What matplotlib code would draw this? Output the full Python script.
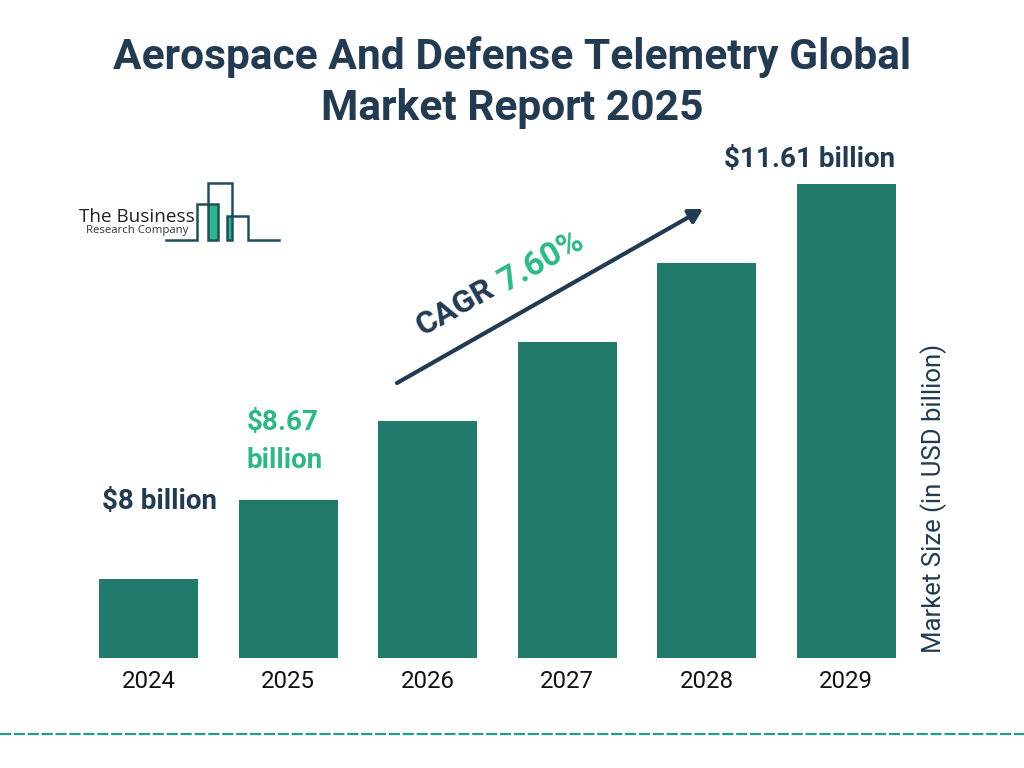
import matplotlib
matplotlib.use("Agg")
import matplotlib.pyplot as plt
from matplotlib.patches import Rectangle

plt.rcParams["font.family"] = ["Roboto", "DejaVu Sans"]

years = ["2024", "2025", "2026", "2027", "2028", "2029"]
# bars in the picture are evenly stepped, they do not follow the labels
bar_heights = [79, 158, 237, 316, 395, 474]
title = "Aerospace And Defense Telemetry Global\nMarket Report 2025"
y_label = "Market Size (in USD billion)"
label_2024 = "$8 billion"
label_2025 = "$8.67\nbillion"
label_2029 = "$11.61 billion"
cagr_word = "CAGR"
cagr_value = "7.60%"

NAVY = "#233a53"
BAR = "#217a6b"
GREEN = "#2fb78a"
TEAL = "#1f9e8f"
LOGO = "#1f4e5f"

W, H = 1024, 768
fig = plt.figure(figsize=(W / 100, H / 100), dpi=100, facecolor="white")

# bar chart axes, baseline at y=658px
ax = fig.add_axes([79 / W, (H - 658) / H, 837 / W, 508 / H])
ax.bar(range(len(years)), bar_heights, width=0.71, color=BAR)
ax.set_xlim(-0.5, 5.5)
ax.set_ylim(0, 508)
ax.set_xticks(range(len(years)))
ax.set_xticklabels(years, fontsize=17.3, color="#111111")
ax.tick_params(axis="x", length=0, pad=9)
ax.set_yticks([])
for s in ax.spines.values():
    s.set_visible(False)
ax.patch.set_alpha(0)

# overlay in pixel coordinates for the annotations
ov = fig.add_axes([0, 0, 1, 1])
ov.set_xlim(0, W)
ov.set_ylim(H, 0)
ov.axis("off")
ov.patch.set_alpha(0)

ov.text(512, 83, title, ha="center", va="center", fontsize=30.65, fontweight="bold",
        color=NAVY, linespacing=1.31)

ov.text(160, 502, label_2024, ha="center", va="center", fontsize=20, fontweight="bold", color=NAVY)
ov.text(247, 441.5, label_2025, ha="left", va="center", fontsize=20, fontweight="bold",
        color=GREEN, linespacing=1.56)
ov.text(810, 160, label_2029, ha="center", va="center", fontsize=20, fontweight="bold", color=NAVY)

ov.text(934, 498.5, y_label, ha="center", va="center", rotation=90, fontsize=18.5, color=NAVY)

ov.annotate("", xy=(703, 209), xytext=(397, 383),
            arrowprops=dict(arrowstyle="-|>,head_length=0.8,head_width=0.45", color=NAVY, lw=3,
                            shrinkA=0, shrinkB=0))
ov.text(455, 307, cagr_word, ha="center", va="center", rotation=29.5, rotation_mode="anchor",
        fontsize=23, fontweight="bold", color=NAVY)
ov.text(541, 262, cagr_value, ha="center", va="center", rotation=29.5, rotation_mode="anchor",
        fontsize=24, fontweight="bold", color=GREEN)

# dashed footer line
ov.plot([0, W], [734, 734], color=TEAL, lw=1.6, dashes=(5, 1.25))

# logo
ov.add_patch(Rectangle((208, 204), 10, 35.5, color=GREEN, lw=0))
ov.add_patch(Rectangle((226.7, 216), 5.3, 23.5, color=GREEN, lw=0))
logo_x = [166, 197, 197, 218, 218, 208, 208, 232, 232, 227, 227, 248, 248, 279]
logo_y = [239.5, 239.5, 204, 204, 239.5, 239.5, 183, 183, 239.5, 239.5, 216, 216, 239.5, 239.5]
ov.plot(logo_x, logo_y, color=LOGO, lw=1.8, solid_joinstyle="miter")
ov.text(79, 217, "The Business", ha="left", va="center", fontsize=13.6, color="#222222",
        family=["Open Sans", "DejaVu Sans"])
ov.text(85.5, 230, "Research Company", ha="left", va="center", fontsize=8.2, color="#333333",
        family=["Open Sans", "DejaVu Sans"])

fig.savefig("out.png", dpi=100)
